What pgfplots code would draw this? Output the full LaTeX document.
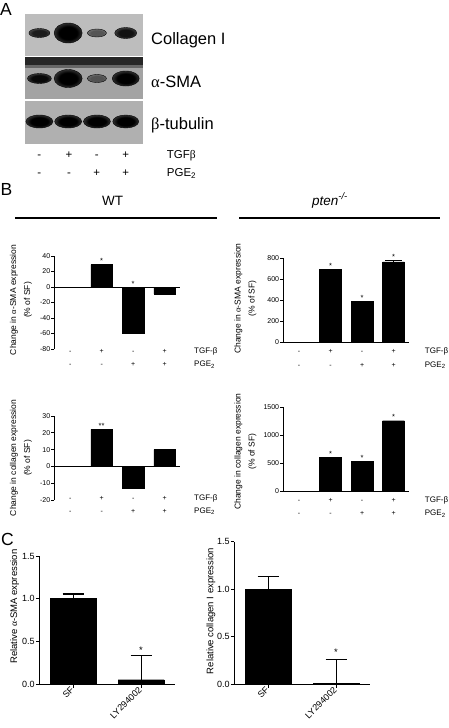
\documentclass[border=0pt]{standalone}
\usepackage{pgfplots}
\pgfplotsset{compat=1.18}
\usepackage{fontspec}
\setmainfont{Liberation Sans}
\newfontfamily\grk{Liberation Serif}
\newcommand{\fsz}[1]{\fontsize{#1}{#1}\selectfont}
\pgfdeclareradialshading{band}{\pgfpoint{0bp}{0bp}}{color(0bp)=(black); color(16bp)=(black); color(50bp)=(black!31)}
\tikzset{
  sgn/.style={anchor=base, inner sep=0pt, font=\fsz{7}},
  rowlab/.style={anchor=base west, inner sep=0pt, font=\fsz{8}},
  sig/.style={inner sep=0pt, anchor=south, yshift=0.8pt, font=\fsz{7.5}},
}
\pgfplotsset{
  /pgf/number format/assume math mode=true,
  /pgf/number format/1000 sep={},
  blackbar/.style={fill=black, draw=black, line width=0.4pt},
  bchart/.style={
    scale only axis, clip=false, anchor=south west,
    width=126pt,
    axis y line*=left, ytick pos=left,
    xmin=0.5, xmax=4.5, xtick=\empty,
    scaled y ticks=false,
    tick align=outside, major tick length=3pt,
    axis line style={line width=0.75pt, black},
    every tick/.style={line width=0.75pt, black},
    tick label style={font=\fsz{7}},
    yticklabel style={inner sep=1pt},
    ylabel style={font=\fontsize{8.5}{14}\selectfont, align=center, anchor=center},
    ybar, bar width=0.69,
  },
  cchart/.style={
    scale only axis, clip=false, anchor=south west,
    width=135.7pt,
    axis x line*=bottom, axis y line*=left, xtick pos=left, ytick pos=left,
    xmin=-0.5, xmax=1.5, ymin=0, ymax=1.5,
    ytick={0,0.5,1,1.5}, xtick={0,1}, xticklabels={SF,LY294002},
    yticklabel style={/pgf/number format/fixed, /pgf/number format/fixed zerofill, /pgf/number format/precision=1, inner sep=1pt},
    tick align=outside, major tick length=3.5pt,
    axis line style={line width=1pt, black},
    every tick/.style={line width=1pt, black},
    tick label style={font=\fsz{9}},
    xticklabel style={rotate=45, anchor=east, inner sep=1pt},
    ylabel style={font=\fsz{9.5}, anchor=center},
    ybar, bar width=0.68,
  },
}
\begin{document}
\begin{tikzpicture}[x=1pt,y=1pt]
\useasboundingbox (0,0) rectangle (448,-728);

% ---------------- Panel A : blot ----------------
\node[anchor=base west, inner sep=0pt, font=\fsz{17.5}] at (0pt,-15pt) {A};
\begin{axis}[at={(25pt,-144pt)}, anchor=south west, scale only axis,
  width=118pt, height=130pt, xmin=0.5, xmax=4.6, ymin=14, ymax=144,
  y dir=reverse, hide axis, clip=false]
\addplot[draw=none, fill=black!26] coordinates {(0.5,14) (4.6,14) (4.6,56) (0.5,56)};
\addplot[draw=none, fill=black!36] coordinates {(0.5,57.3) (4.6,57.3) (4.6,99) (0.5,99)};
\addplot[draw=none, fill=black!85] coordinates {(0.5,57.3) (4.6,57.3) (4.6,65) (0.5,65)};
\addplot[draw=none, fill=black!60] coordinates {(0.5,65) (4.6,65) (4.6,68) (0.5,68)};
\addplot[draw=none, fill=black!31] coordinates {(0.5,100.7) (4.6,100.7) (4.6,144) (0.5,144)};
\addplot[scatter, only marks, mark=*, mark size=0pt, mark options={draw=none, fill=none},
  visualization depends on={value \thisrow{w}\as\bw},
  visualization depends on={value \thisrow{h}\as\bh},
  visualization depends on={value \thisrow{d}\as\bd},
  scatter/@pre marker code/.code={%
    \pgfmathsetmacro{\bop}{\bd/100}%
    \shade[shading=band, fill opacity=\bop] (0pt,0pt) ellipse [x radius=\bw pt, y radius=\bh pt];%
  },
  scatter/@post marker code/.code={}]
table {
x y w h d
1 33 10.5 4.5 85
2 33 14 10 100
3 33 9.5 4 55
4 33 11 5.5 90
1 78.5 12 5 95
2 78.5 14 9 100
3 78.5 9.5 4 50
4 78.5 13.5 7.5 100
1 121.5 13.5 6.5 100
2 121.5 13.5 6.5 100
3 121.5 13.5 6.5 100
4 121.5 13 6.5 100
};
\end{axis}
\node[anchor=base west, inner sep=0pt, font=\fsz{16.5}] at (151pt,-44.5pt) {Collagen I};
\node[anchor=base west, inner sep=0pt, font=\fsz{16.5}] at (151pt,-87pt) {{\grk α}-SMA};
\node[anchor=base west, inner sep=0pt, font=\fsz{16.5}] at (151pt,-129pt) {{\grk β}-tubulin};
\foreach \x/\s in {39.3/-,69/+,96.7/-,125.7/+} \node[anchor=base, inner sep=0pt, font=\fsz{11.5}] at (\x pt,-158pt) {\s};
\foreach \x/\s in {39.3/-,69/-,96.7/+,125.7/+} \node[anchor=base, inner sep=0pt, font=\fsz{11.5}] at (\x pt,-176.5pt) {\s};
\node[anchor=base west, inner sep=0pt, font=\fsz{11.5}] at (166.7pt,-158pt) {TGF{\grk β}};
\node[anchor=base west, inner sep=0pt, font=\fsz{11.5}] at (166.7pt,-176.5pt) {PGE\textsubscript{2}};

% ---------------- Panel B header ----------------
\node[anchor=base west, inner sep=0pt, font=\fsz{17.5}] at (0.5pt,-195.5pt) {B};
\node[anchor=base, inner sep=0pt, font=\fsz{13.5}] at (112.7pt,-205pt) {WT};
\node[anchor=base, inner sep=0pt, font=\fsz{13.5}] at (330pt,-205pt) {\textit{pten}\textsuperscript{\textit{-/-}}};
\draw[line width=2.2pt] (15pt,-217.7pt) -- (216.7pt,-217.7pt);
\draw[line width=2.2pt] (239.3pt,-217.7pt) -- (440pt,-217.7pt);

% WT alpha-SMA
\begin{axis}[bchart, at={(54.4pt,-349pt)}, height=93pt,
  axis x line*=middle, ymin=-80, ymax=40, ytick={-80,-60,...,40},
  ylabel={Change in {\grk α}-SMA expression\\(\% of SF)},
  ylabel style={at={(axis description cs:-0.265,0.527)}}]
\addplot[blackbar] coordinates {(1,0) (2,29) (3,-60) (4,-9)};
\node[sig] at (axis cs:2,29) {*};
\node[sig] at (axis cs:3,0) {*};
\end{axis}
\foreach \x/\s in {70.2/-,101.7/+,133.2/-,164.7/+} \node[sgn] at (\x pt,-353.3pt) {\s};
\foreach \x/\s in {70.2/-,101.7/-,133.2/+,164.7/+} \node[sgn] at (\x pt,-366.8pt) {\s};
\node[rowlab] at (194pt,-353.3pt) {TGF-β};
\node[rowlab] at (194pt,-366.8pt) {PGE\textsubscript{2}};

% WT collagen
\begin{axis}[bchart, at={(54.4pt,-500pt)}, height=84pt,
  axis x line*=middle, ymin=-20, ymax=30, ytick={-20,-10,...,30},
  ylabel={Change in collagen expression\\(\% of SF)},
  ylabel style={at={(axis description cs:-0.265,0.5)}}]
\addplot[blackbar] coordinates {(1,0) (2,22) (3,-13) (4,10)};
\node[sig] at (axis cs:2,22) {**};
\end{axis}
\foreach \x/\s in {70.2/-,101.7/+,133.2/-,164.7/+} \node[sgn] at (\x pt,-500.3pt) {\s};
\foreach \x/\s in {70.2/-,101.7/-,133.2/+,164.7/+} \node[sgn] at (\x pt,-513.3pt) {\s};
\node[rowlab] at (194pt,-500.3pt) {TGF-β};
\node[rowlab] at (194pt,-513.3pt) {PGE\textsubscript{2}};

% pten alpha-SMA
\begin{axis}[bchart, at={(283.3pt,-342pt)}, height=84pt,
  axis x line*=bottom, ymin=0, ymax=800, ytick={0,200,...,800},
  ylabel={Change in {\grk α}-SMA expression\\(\% of SF)},
  ylabel style={at={(axis description cs:-0.3,0.518)}}]
\addplot[blackbar, error bars/.cd, y dir=plus, y explicit,
  error bar style={line width=0.6pt, black},
  error mark options={rotate=90, mark size=8.5pt, line width=0.6pt, black}]
  table[x=x, y=y, y error=e] {
x y e
1 0 0
2 690 0
3 390 0
4 762 12
};
\node[sig] at (axis cs:2,690) {*};
\node[sig] at (axis cs:3,390) {*};
\node[sig] at (axis cs:4,774) {*};
\end{axis}
\foreach \x/\s in {299.1/-,330.6/+,362.1/-,393.6/+} \node[sgn] at (\x pt,-353.8pt) {\s};
\foreach \x/\s in {299.1/-,330.6/-,362.1/+,393.6/+} \node[sgn] at (\x pt,-367.3pt) {\s};
\node[rowlab] at (424.7pt,-353.8pt) {TGF-β};
\node[rowlab] at (424.7pt,-367.3pt) {PGE\textsubscript{2}};

% pten collagen
\begin{axis}[bchart, at={(283.3pt,-491pt)}, height=84pt,
  axis x line*=bottom, ymin=0, ymax=1500, ytick={0,500,1000,1500},
  ylabel={Change in collagen expression\\(\% of SF)},
  ylabel style={at={(axis description cs:-0.3,0.47)}}]
\addplot[blackbar] coordinates {(1,0) (2,605) (3,535) (4,1255)};
\node[sig] at (axis cs:2,605) {*};
\node[sig] at (axis cs:3,535) {*};
\node[sig] at (axis cs:4,1255) {*};
\end{axis}
\foreach \x/\s in {299.1/-,330.6/+,362.1/-,393.6/+} \node[sgn] at (\x pt,-502.3pt) {\s};
\foreach \x/\s in {299.1/-,330.6/-,362.1/+,393.6/+} \node[sgn] at (\x pt,-515.8pt) {\s};
\node[rowlab] at (424.7pt,-502.3pt) {TGF-β};
\node[rowlab] at (424.7pt,-515.8pt) {PGE\textsubscript{2}};

% ---------------- Panel C ----------------
\node[anchor=base west, inner sep=0pt, font=\fsz{17.5}] at (1pt,-545pt) {C};
\begin{axis}[cchart, at={(39.3pt,-684pt)}, height=128pt,
  ylabel={Relative {\grk α}-SMA expression},
  ylabel style={at={(axis description cs:-0.181,0.605)}}]
\addplot[blackbar, error bars/.cd, y dir=plus, y explicit,
  error bar style={line width=1.1pt, black},
  error mark options={rotate=90, mark size=10.5pt, line width=1.1pt, black}]
  table[x=x, y=y, y error=e] {
x y e
0 1.0 0.055
1 0.05 0.28
};
\node[sig, font=\fsz{9.5}, yshift=1.5pt] at (axis cs:1,0.33) {*};
\end{axis}
\begin{axis}[cchart, at={(234.3pt,-684pt)}, height=142.3pt,
  ylabel={Relative collagen I expression},
  ylabel style={at={(axis description cs:-0.172,0.513)}}]
\addplot[blackbar, error bars/.cd, y dir=plus, y explicit,
  error bar style={line width=1.1pt, black},
  error mark options={rotate=90, mark size=10.5pt, line width=1.1pt, black}]
  table[x=x, y=y, y error=e] {
x y e
0 1.0 0.13
1 0.01 0.25
};
\node[sig, font=\fsz{9.5}, yshift=3pt] at (axis cs:1,0.26) {*};
\end{axis}
\end{tikzpicture}
\end{document}
